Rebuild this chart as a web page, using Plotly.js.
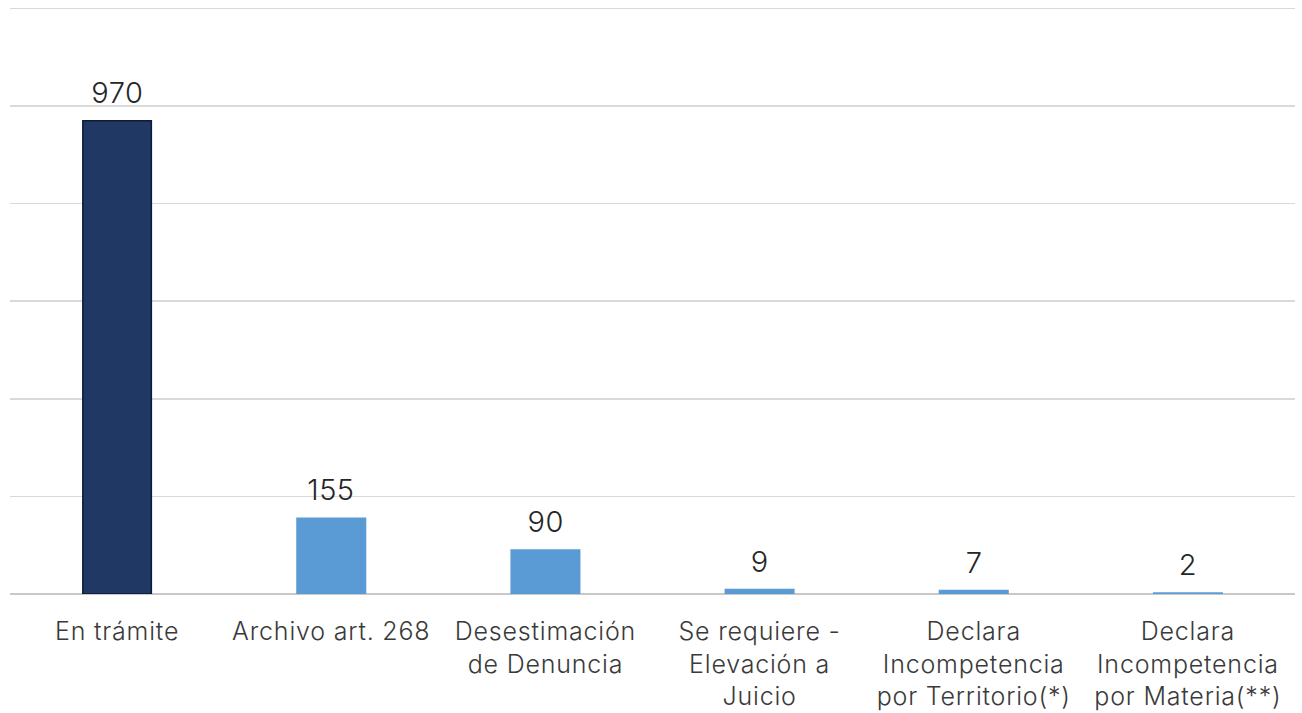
<!DOCTYPE html>
<html><head><meta charset="utf-8">
<script src="https://cdn.plot.ly/plotly-3.0.1.min.js"></script>
<style>html,body{margin:0;padding:0;background:#fff}#chart{width:1302px;height:713px}
#chart .xtick text{letter-spacing:0.8px}
#chart .annotation-text{letter-spacing:0.5px}</style>
</head><body><div id="chart"></div>
<script>
const categories = ["En trámite", "Archivo art. 268", "Desestimación<br>de Denuncia", "Se requiere -<br>Elevación a<br>Juicio", "Declara<br>Incompetencia<br>por Territorio(*)", "Declara<br>Incompetencia<br>por Materia(**)"];
const values = [970, 155, 90, 9, 7, 2];
const barColors = ["#203864", "#5b9bd5", "#5b9bd5", "#5b9bd5", "#5b9bd5", "#5b9bd5"];
const lineColors = ["#0d1a3a", "#5b9bd5", "#5b9bd5", "#5b9bd5", "#5b9bd5", "#5b9bd5"];
const yTicks = [0, 200, 400, 600, 800, 1000, 1200];

const FONT = "Inter, 'Noto Sans', sans-serif";

const trace = {
  type: 'bar',
  x: categories,
  y: values,
  marker: {color: barColors, line: {color: lineColors, width: 1.5}},
  hoverinfo: 'none'
};

const annotations = categories.map((c, i) => ({
  x: c, y: values[i], xref: 'x', yref: 'y',
  text: String(values[i]), showarrow: false,
  yanchor: 'bottom', yshift: 9,
  font: {family: FONT, size: 29, color: '#262626', weight: 300}
}));

const layout = {
  width: 1302, height: 713,
  margin: {l: 10, r: 7, t: 6, b: 119},
  paper_bgcolor: '#fff', plot_bgcolor: '#fff',
  showlegend: false,
  bargap: 0.68,
  xaxis: {
    type: 'category',
    showgrid: false, zeroline: false,
    showline: false,
    ticks: '', ticklabelstandoff: 20,
    tickfont: {family: FONT, size: 25, color: '#3a3a3a', weight: 300}
  },
  yaxis: {
    range: [0, 1205],
    tickvals: yTicks,
    showticklabels: false,
    showgrid: true, gridcolor: '#d9d9d9', gridwidth: 1.5,
    zeroline: true, zerolinecolor: '#c8c8c8', zerolinewidth: 2,
    fixedrange: true
  },
  annotations: annotations
};

Plotly.newPlot('chart', [trace], layout, {displayModeBar: false, staticPlot: true});
</script>
</body></html>
